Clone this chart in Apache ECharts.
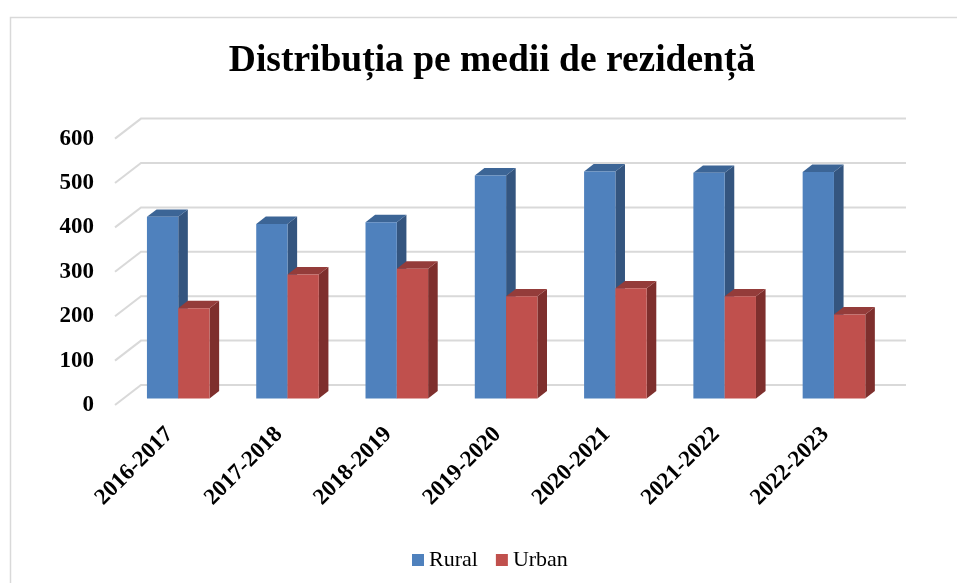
<!DOCTYPE html>
<html>
<head>
<meta charset="utf-8">
<script src="https://cdn.jsdelivr.net/npm/echarts@6/dist/echarts.min.js"></script>
<style>html,body{margin:0;padding:0;background:#fff;}#c{width:957px;height:583px;}</style>
</head>
<body>
<div id="c"></div>
<script>
const categories = ['2016-2017','2017-2018','2018-2019','2019-2020','2020-2021','2021-2022','2022-2023'];
const rural = [409, 393, 397, 502, 511, 508, 510];
const urban = [203, 279, 292, 230, 248, 230, 189];
const yTicks = [0, 100, 200, 300, 400, 500, 600];

const chart = echarts.init(document.getElementById('c'), null, {renderer: 'canvas'});

const DEPTH = [26, -20];      // full floor depth vector
const BAR_OFF = [8.6, -6.6];  // bar front plane offset from front plane
const BAR_D = [9.6, -7.4];    // bar depth
const BAR_W = 0.2864;         // bar width as fraction of category band

function barRenderer(side, front, dark, top) {
  return function (params, api) {
    const i = api.value(0), v = api.value(1);
    const c = api.coord([i, v]);
    const b = api.coord([i, 0]);
    const band = api.size([1, 0])[0];
    const w = band * BAR_W;
    const x0 = (side === 0 ? c[0] - w : c[0]) + BAR_OFF[0];
    const x1 = x0 + w;
    const yt = c[1] + BAR_OFF[1];
    const yb = b[1] + BAR_OFF[1];
    const dx = BAR_D[0], dy = BAR_D[1];
    return {
      type: 'group',
      children: [
        {type: 'polygon', shape: {points: [[x1, yt], [x1 + dx, yt + dy], [x1 + dx, yb + dy], [x1, yb]]}, style: {fill: dark}},
        {type: 'polygon', shape: {points: [[x0, yt], [x0 + dx, yt + dy], [x1 + dx, yt + dy], [x1, yt]]}, style: {fill: top}},
        {type: 'rect', shape: {x: x0, y: yt, width: w, height: yb - yt}, style: {fill: front}}
      ]
    };
  };
}

function gridRenderer(params, api) {
  const p = api.coord([0, api.value(1)]);
  const xl = params.coordSys.x;
  const xr = xl + params.coordSys.width;
  const y = p[1];
  return {
    type: 'polyline',
    shape: {points: [[xl, y], [xl + DEPTH[0], y + DEPTH[1]], [xr + DEPTH[0], y + DEPTH[1]]]},
    style: {stroke: '#D9D9D9', lineWidth: 2, fill: null}
  };
}

const option = {
  backgroundColor: '#ffffff',
  animation: false,
  graphic: [{
    type: 'rect', left: 8, top: 15, silent: true,
    shape: {x: 0, y: 0, width: 1000, height: 1000},
    style: {fill: null, stroke: '#D9D9D9', lineWidth: 1.5}
  }],
  title: {
    text: 'Distribuția pe medii de rezidență',
    left: 487, top: 37, textAlign: 'center',
    textStyle: {fontFamily: 'Liberation Serif', fontWeight: 'bold', fontSize: 37.5, color: '#000'}
  },
  legend: {
    data: ['Rural', 'Urban'],
    left: 407, top: 544,
    icon: 'rect', itemWidth: 12, itemHeight: 12, itemGap: 18,
    textStyle: {fontFamily: 'Liberation Serif', fontSize: 22, color: '#000'}
  },
  grid: {left: 115, right: 77, top: 138.6, bottom: 178, containLabel: false},
  xAxis: {
    type: 'category', data: categories,
    axisLine: {show: false}, axisTick: {show: false}, splitLine: {show: false},
    axisLabel: {interval: 0, rotate: 45, margin: 26, fontFamily: 'Liberation Serif', fontWeight: 'bold', fontSize: 23, color: '#000'}
  },
  yAxis: {
    type: 'value', min: 0, max: 600, interval: 100,
    axisLine: {show: false}, axisTick: {show: false}, splitLine: {show: false},
    axisLabel: {margin: 21, fontFamily: 'Liberation Serif', fontWeight: 'bold', fontSize: 23, color: '#000'}
  },
  series: [
    {
      type: 'custom', name: 'grid', silent: true, z: 1,
      data: yTicks.map(v => [0, v]), encode: {x: 0, y: 1},
      renderItem: gridRenderer
    },
    {
      type: 'custom', name: 'Rural', z: 2,
      itemStyle: {color: '#4F81BD'},
      data: rural.map((v, i) => [i, v]), encode: {x: 0, y: 1},
      renderItem: barRenderer(0, '#4F81BD', '#34557F', '#3C6596')
    },
    {
      type: 'custom', name: 'Urban', z: 3,
      itemStyle: {color: '#C0504D'},
      data: urban.map((v, i) => [i, v]), encode: {x: 0, y: 1},
      renderItem: barRenderer(1, '#C0504D', '#7E2F2D', '#943C3A')
    }
  ]
};
chart.setOption(option);
</script>
</body>
</html>
